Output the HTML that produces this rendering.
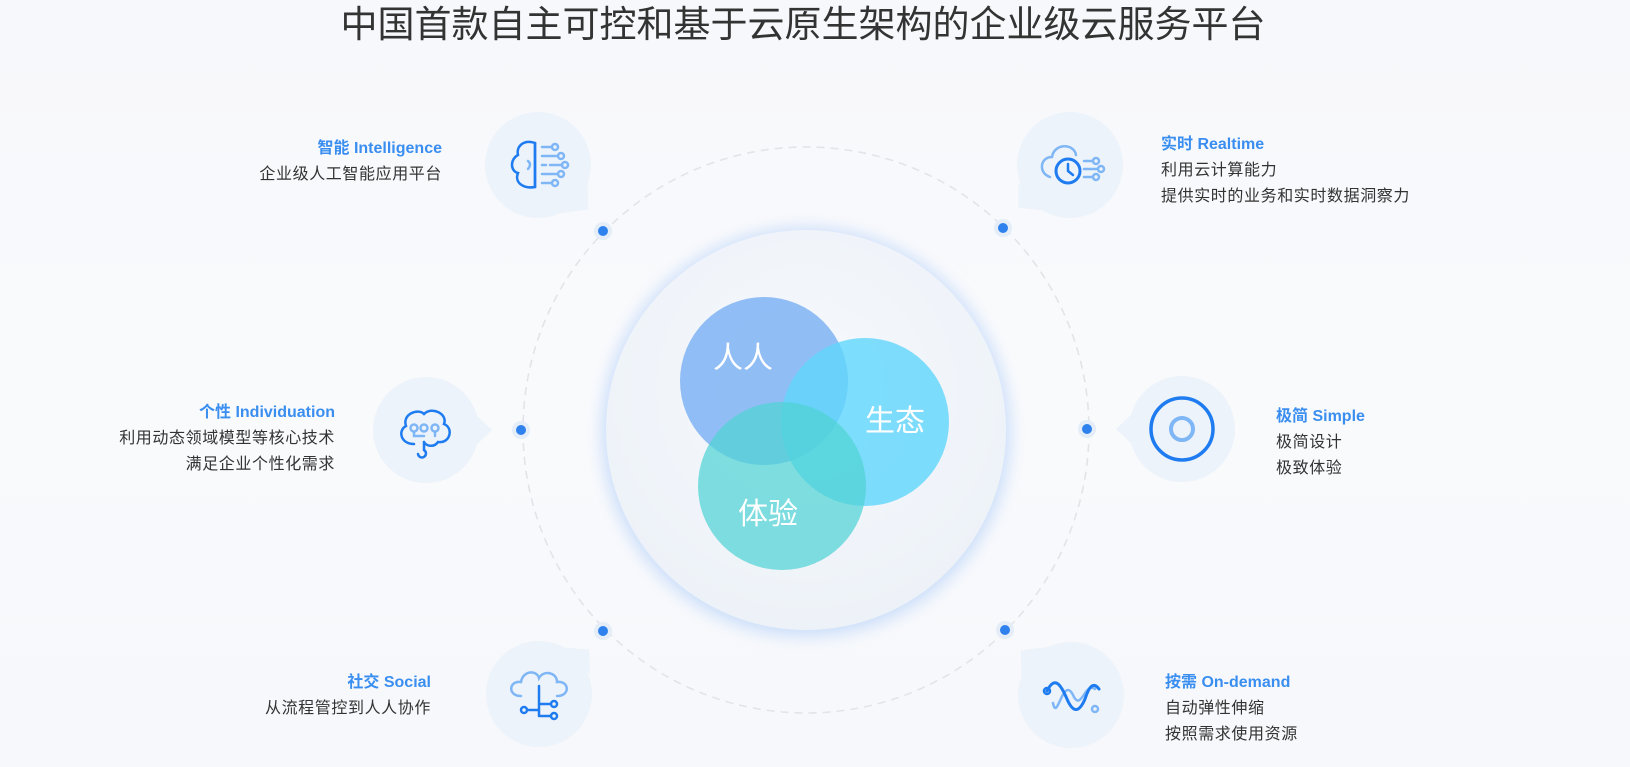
<!DOCTYPE html>
<html><head><meta charset="utf-8">
<style>
html,body{margin:0;padding:0;}
body{width:1630px;height:767px;overflow:hidden;position:relative;background:linear-gradient(180deg,#f7f8fb 0%,#f9fafc 50%,#f6f8fb 100%);font-family:"Liberation Sans","Noto Sans CJK SC",sans-serif;}
svg{position:absolute;left:0;top:0;}
.t{position:absolute;line-height:26px;font-size:16px;color:#333;letter-spacing:0.6px;white-space:nowrap;}
.t b{color:#3a8ef0;font-weight:bold;letter-spacing:0;display:block;}
.r{text-align:right;}
h1{position:absolute;left:0;width:1606px;top:2px;margin:0;text-align:center;font-weight:normal;font-size:37px;line-height:46px;color:#333;}
</style></head><body>
<h1>中国首款自主可控和基于云原生架构的企业级云服务平台</h1>
<svg width="1630" height="767" viewBox="0 0 1630 767">
<defs>
<radialGradient id="ig" cx="50%" cy="40%" r="60%"><stop offset="0" stop-color="#f6f9fd"/><stop offset="1" stop-color="#edf2f8"/></radialGradient>
<filter id="bl" x="-20%" y="-20%" width="140%" height="140%"><feGaussianBlur stdDeviation="8"/></filter>
</defs>
<circle cx="806" cy="430" r="283" fill="none" stroke="#e2e4e8" stroke-width="1.6" stroke-dasharray="8 6"/>
<circle cx="806" cy="432" r="204" fill="#c9ddfa" filter="url(#bl)"/>
<circle cx="806" cy="430" r="200" fill="url(#ig)"/>
<circle cx="764" cy="381" r="84" fill="#7fb3f3" fill-opacity="0.85"/>
<circle cx="865" cy="422" r="84" fill="#5fd6fb" fill-opacity="0.8"/>
<circle cx="782" cy="486" r="84" fill="#4fd2d4" fill-opacity="0.72"/>
<text x="743" y="368" font-size="30" fill="#fff" text-anchor="middle" font-family="Noto Sans CJK SC,sans-serif">人人</text>
<text x="895" y="431" font-size="30" fill="#fff" text-anchor="middle" font-family="Noto Sans CJK SC,sans-serif">生态</text>
<text x="768" y="524" font-size="30" fill="#fff" text-anchor="middle" font-family="Noto Sans CJK SC,sans-serif">体验</text>
<g fill="#e4edf8"><circle cx="603" cy="231" r="9"/><circle cx="1003" cy="228" r="9"/><circle cx="521" cy="430" r="9"/><circle cx="1087" cy="429" r="9"/><circle cx="603" cy="631" r="9"/><circle cx="1005" cy="630" r="9"/></g>
<g fill="#2f82ee"><circle cx="603" cy="231" r="5"/><circle cx="1003" cy="228" r="5"/><circle cx="521" cy="430" r="5"/><circle cx="1087" cy="429" r="5"/><circle cx="603" cy="631" r="5"/><circle cx="1005" cy="630" r="5"/></g>
<g fill="#edf3fa">
<g transform="translate(538,165) rotate(45)"><circle r="53"/><polygon points="48,-22 67,-4 50,18"/></g>
<g transform="translate(1070,165) rotate(137)"><circle r="53"/><polygon points="48,-18 67,4 50,22"/></g>
<g transform="translate(426,430) rotate(0)"><circle r="53"/><polygon points="49,-16 66,0 49,16"/></g>
<g transform="translate(1182,429) rotate(180)"><circle r="53"/><polygon points="49,-16 66,0 49,16"/></g>
<g transform="translate(539,694) rotate(-45)"><circle r="53"/><polygon points="48,-18 67,4 50,22"/></g>
<g transform="translate(1071,695) rotate(-135)"><circle r="53"/><polygon points="48,-22 67,-4 50,18"/></g>
</g>
<g fill="none" stroke-width="2.5" stroke-linecap="round">
<g transform="translate(538,165)">
<path d="M-3,-22 C-15,-26 -22,-18 -20,-10 C-28,-6 -28,6 -20,8 C-24,18 -14,24 -3,22 Z" stroke="#1e7cf0"/>
<path d="M-3,-22 V22" stroke="#1e7cf0"/>
<path d="M-10,-4 q4,3 0,8" stroke="#7fb6f5"/>
<g stroke="#7fb6f5"><path d="M4,-18 h10"/><circle cx="17" cy="-18" r="3"/><path d="M4,-9 h16"/><circle cx="23" cy="-9" r="3"/><path d="M4,0 h4 M12,0 h12"/><circle cx="27" cy="0" r="3"/><path d="M4,9 h16"/><circle cx="23" cy="9" r="3"/><path d="M4,18 h10"/><circle cx="17" cy="18" r="3"/></g>
</g>
<g transform="translate(1070,165)">
<path d="M-20,12 C-32,8 -30,-8 -18,-8 C-16,-22 4,-22 6,-10" stroke="#7fb6f5"/>
<circle cx="-2" cy="6" r="12" stroke="#1e7cf0" stroke-width="3"/>
<path d="M-2,-1 v7 l5,4" stroke="#1e7cf0"/>
<g stroke="#7fb6f5"><path d="M14,-4 h9"/><circle cx="26" cy="-4" r="3"/><path d="M14,4 h14"/><circle cx="31" cy="4" r="3"/><path d="M14,12 h9"/><circle cx="26" cy="12" r="3"/></g>
</g>
<g transform="translate(426,430)">
<path d="M-12,14 C-26,14 -28,0 -20,-4 C-24,-16 -8,-22 -2,-16 C6,-24 22,-16 18,-6 C28,-2 24,14 12,12 C8,18 0,16 -2,12" stroke="#1e7cf0"/>
<path d="M-2,12 v8 a4,4 0 1 1 -6,4" stroke="#1e7cf0"/>
<g stroke="#7fb6f5"><circle cx="-12" cy="-2" r="3.5"/><circle cx="-2" cy="-2" r="3.5"/><circle cx="9" cy="-2" r="3.5"/><path d="M-12,2 v4 h10 M9,2 v4"/></g>
</g>
<g transform="translate(1182,429)">
<circle r="31" stroke="#1e7cf0" stroke-width="3.5"/>
<circle r="11" stroke="#7fb6f5" stroke-width="4"/>
</g>
<g transform="translate(539,694)">
<path d="M-18,2 C-32,2 -30,-14 -18,-12 C-16,-24 -2,-24 0,-16 C4,-24 18,-22 18,-12 C30,-14 32,2 18,2" stroke="#7fb6f5"/>
<path d="M0,-8 v30 M0,10 h12 M0,22 h12 M-12,16 h12" stroke="#1e7cf0"/>
<circle cx="15" cy="10" r="3" stroke="#1e7cf0"/><circle cx="15" cy="22" r="3" stroke="#1e7cf0"/><circle cx="-15" cy="16" r="3" stroke="#1e7cf0"/>
</g>
<g transform="translate(1071,695)">
<path d="M-18,8 C-14,28 -8,-20 2,0 C10,18 14,-14 24,-6" stroke="#7fb6f5"/>
<circle cx="24" cy="14" r="3" stroke="#7fb6f5"/>
<path d="M-24,-4 C-16,-20 -10,-10 -4,4 C2,18 8,18 14,4 C18,-8 22,-14 28,-6" stroke="#1e7cf0" stroke-width="3"/>
<circle cx="-24" cy="-4" r="3" stroke="#1e7cf0"/>
</g>
</g>
</svg>
<div class="t r" style="right:1188px;top:136px;"><b>智能 Intelligence</b>企业级人工智能应用平台</div>
<div class="t" style="left:1161px;top:132px;"><b>实时 Realtime</b>利用云计算能力<br>提供实时的业务和实时数据洞察力</div>
<div class="t r" style="right:1295px;top:400px;"><b>个性 Individuation</b>利用动态领域模型等核心技术<br>满足企业个性化需求</div>
<div class="t" style="left:1276px;top:404px;"><b>极简 Simple</b>极简设计<br>极致体验</div>
<div class="t r" style="right:1199px;top:670px;"><b>社交 Social</b>从流程管控到人人协作</div>
<div class="t" style="left:1165px;top:670px;"><b>按需 On-demand</b>自动弹性伸缩<br>按照需求使用资源</div>
</body></html>
